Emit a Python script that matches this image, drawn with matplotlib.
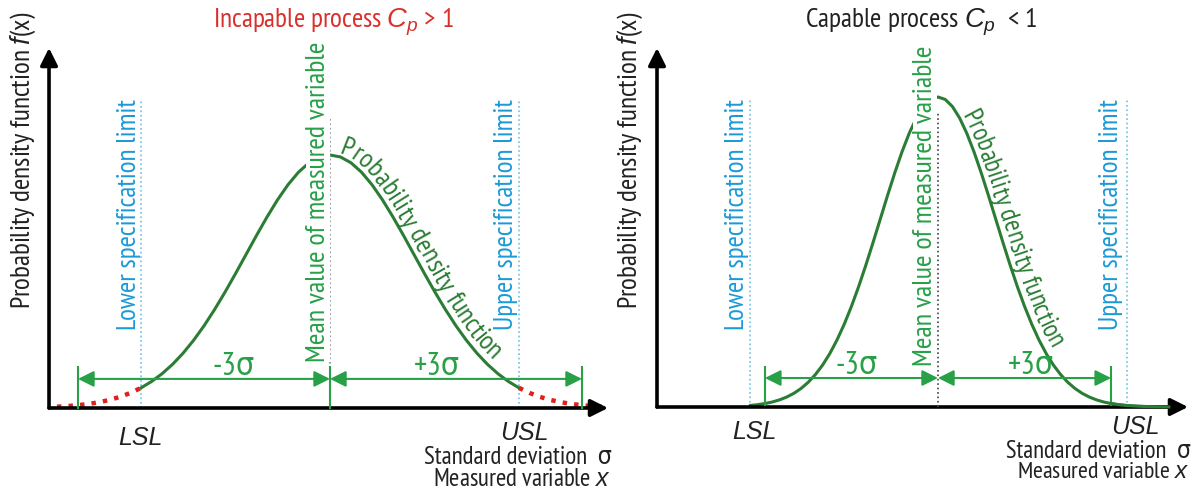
import numpy as np
import matplotlib
matplotlib.use("Agg")
import matplotlib.pyplot as plt
from matplotlib import font_manager
from matplotlib.font_manager import FontProperties
from matplotlib.textpath import TextToPath
from matplotlib.transforms import Affine2D, IdentityTransform

W, H, DPI = 1193, 492, 100

# the reference uses a narrow sans; take the narrowest one the machine has
FONT, STRETCH, rank = "Liberation Sans", "normal", 9
for f in font_manager.fontManager.ttflist:
    if f.style != "normal" or f.weight not in (400, "normal"):
        continue
    if "Narrow" in f.name:
        r = 0
    elif "Condensed" in f.name or f.stretch in ("condensed", "extra-condensed"):
        r = 1
    elif f.stretch == "semi-condensed":
        r = 2
    else:
        continue
    if r < rank and ("Sans" in f.name or "Roboto" in f.name):
        FONT, STRETCH, rank = f.name, f.stretch, r
ITALIC = "Liberation Sans"  # has a real italic, used for the italic letters
plt.rcParams["font.family"] = [FONT, "DejaVu Sans"]
plt.rcParams["font.stretch"] = STRETCH
plt.rcParams["mathtext.fontset"] = "custom"
plt.rcParams["mathtext.rm"] = FONT
plt.rcParams["mathtext.it"] = ITALIC + ":italic"

# density curve: x in sigmas from the mean, height relative to the peak
x_sig = [-4.0, -3.875, -3.75, -3.625, -3.5, -3.375, -3.25, -3.125, -3.0, -2.875,
         -2.75, -2.625, -2.5, -2.375, -2.25, -2.125, -2.0, -1.875, -1.75, -1.625,
         -1.5, -1.375, -1.25, -1.125, -1.0, -0.875, -0.75, -0.625, -0.5, -0.375,
         -0.25, -0.125, 0.0, 0.125, 0.25, 0.375, 0.5, 0.625, 0.75, 0.875, 1.0,
         1.125, 1.25, 1.375, 1.5, 1.625, 1.75, 1.875, 2.0, 2.125, 2.25, 2.375,
         2.5, 2.625, 2.75, 2.875, 3.0, 3.125, 3.25, 3.375, 3.5, 3.625, 3.75,
         3.875, 4.0]
pdf = [0.0003, 0.0005, 0.0009, 0.0014, 0.0022, 0.0034, 0.0051, 0.0076, 0.0111,
       0.0160, 0.0228, 0.0319, 0.0439, 0.0596, 0.0796, 0.1046, 0.1353, 0.1724,
       0.2163, 0.2671, 0.3247, 0.3886, 0.4578, 0.5311, 0.6065, 0.6820, 0.7548,
       0.8226, 0.8825, 0.9321, 0.9692, 0.9922, 1.0, 0.9922, 0.9692, 0.9321,
       0.8825, 0.8226, 0.7548, 0.6820, 0.6065, 0.5311, 0.4578, 0.3886, 0.3247,
       0.2671, 0.2163, 0.1724, 0.1353, 0.1046, 0.0796, 0.0596, 0.0439, 0.0319,
       0.0228, 0.0160, 0.0111, 0.0076, 0.0051, 0.0034, 0.0022, 0.0014, 0.0009,
       0.0005, 0.0003]

# specification limits in sigmas
lsl_incap, usl_incap = -2.25, 2.25
lsl_cap, usl_cap = -3.26, 3.28
span = 3  # the +-3 sigma brackets

titles = ["Incapable process $C_{p}$ > 1", "Capable process $C_{p}$  < 1"]
ylab = "Probability density function $f$(x)"

GREEN = "#2b7d35"
LGREEN = "#27a047"
BLUE = "#1c9ad6"
SPEC = "#6cc0e6"
RED = "#d8302b"
INK = "#222222"

fig = plt.figure(figsize=(W / DPI, H / DPI), dpi=DPI)
renderer = fig.canvas.get_renderer()
pix = Affine2D().scale(1 / W, -1 / H).translate(0, 1) + fig.transFigure


def make_axes(x0, x1, mean_px, sig_px, base_py, peak_h):
    ax = fig.add_axes([x0 / W, 0, (x1 - x0) / W, 1])
    ax.set_xlim((x0 - mean_px) / sig_px, (x1 - mean_px) / sig_px)
    ax.set_ylim((base_py - H) / peak_h, base_py / peak_h)
    ax.axis("off")
    return ax


def axis_arrow(ax, start, end):
    ax.annotate("", xy=end, xytext=start,
                arrowprops=dict(arrowstyle="-|>", color="black", lw=2.6,
                                mutation_scale=26, shrinkA=0, shrinkB=0))


def bracket(ax, x0, x1, y):
    ax.annotate("", xy=(x1, y), xytext=(x0, y),
                arrowprops=dict(arrowstyle="<|-|>", color=LGREEN, lw=1.5,
                                mutation_scale=24, shrinkA=0, shrinkB=0))


def text_on_curve(ax, xs, ys, text, start_px, length, offsets, color):
    pts = ax.transData.transform(np.column_stack([xs, ys]))
    pts = pts[pts[:, 0] >= start_px - 20]
    # shift the baseline off the curve, a little more towards the end
    d = np.gradient(pts, axis=0)
    d /= np.hypot(d[:, 0], d[:, 1])[:, None]
    off = np.interp(pts[:, 0], [start_px, start_px + 0.6 * length], offsets)
    pts = pts + np.column_stack([-d[:, 1], d[:, 0]]) * off[:, None]

    seg = np.diff(pts, axis=0)
    L = np.hypot(seg[:, 0], seg[:, 1])
    s = np.concatenate([[0], np.cumsum(L)])
    s0 = np.interp(start_px, pts[:, 0], s)
    ttp = TextToPath()

    def width(t, size):
        prop = FontProperties(family=FONT, size=size, stretch=STRETCH)
        return ttp.get_text_width_height_descent(t, prop, ismath=False)[0] * DPI / 72

    size = 20 * length / width(text, 20)

    def point(sv):
        i = int(np.clip(np.searchsorted(s, sv) - 1, 0, len(L) - 1))
        return pts[i] + (sv - s[i]) / L[i] * seg[i]

    for k, ch in enumerate(text):
        if ch == " ":
            continue
        sc = s0 + width(text[:k + 1], size) - width(ch, size) / 2
        p = point(sc)
        t = point(sc + 10) - point(sc - 10)
        ang = np.degrees(np.arctan2(t[1], t[0]))
        fig.text(p[0], p[1], ch, transform=IdentityTransform(), rotation=ang,
                 rotation_mode="anchor", ha="center", va="baseline",
                 fontsize=size, color=color)


def label(x, y, s, length, **kw):
    """Text at pixel (x, y) from the top-left, sized so it spans `length` px."""
    kw.setdefault("ha", "center")
    kw.setdefault("va", "center")
    t = fig.text(x, y, s, transform=pix, fontsize=20, **kw)
    bb = t.get_window_extent(renderer)
    actual = bb.height if kw.get("rotation") == 90 else bb.width
    t.set_fontsize(20 * length / actual)
    return t


xs = np.array(x_sig)
ys = np.array(pdf)

# ---------------- left: incapable process ----------------
axL = make_axes(0, 615, 330, 84, 408, 253)
inner = (xs >= lsl_incap) & (xs <= usl_incap)
axL.plot(xs[inner], ys[inner], color=GREEN, lw=2.2, zorder=2)
for m in [(xs <= lsl_incap) & (xs >= -3.3), (xs >= usl_incap) & (xs <= 3.3)]:
    axL.plot(xs[m], ys[m], color="#e0201c", lw=3.2, ls=(0, (1, 1.6)), zorder=2)
for x in [lsl_incap, usl_incap]:
    axL.plot([x, x], [0, 1.22], color=SPEC, lw=1.2, ls=":", zorder=1)
axL.plot([0, 0], [0.16, 1.146], color="#888888", lw=1.2, ls=":", zorder=4)
for x in [-span, 0, span]:
    axL.plot([x, x], [0, 0.162], color=LGREEN, lw=1.5, zorder=4)
bracket(axL, -span, 0, 0.115)
bracket(axL, 0, span, 0.115)
axis_arrow(axL, (-3.345, 0), (-3.345, 1.423))
axis_arrow(axL, (-3.345, 0), (3.31, 0))
text_on_curve(axL, xs, ys, "Probability density function", 338, 262, (3, 6), GREEN)

# ---------------- right: capable process ----------------
axR = make_axes(615, W, 938, 57.7, 407, 310)
m = xs >= -3.25
axR.plot(xs[m], ys[m], color=GREEN, lw=2.2, zorder=2)
for x in [lsl_cap, usl_cap]:
    axR.plot([x, x], [0, 0.99], color=SPEC, lw=1.2, ls=":", zorder=1)
axR.plot([0, 0], [0, 0.95], color="#444444", lw=1.2, ls=":", zorder=4)
for x in [-span, span]:
    axR.plot([x, x], [0.006, 0.129], color=LGREEN, lw=1.5, zorder=4)
bracket(axR, -span, 0, 0.0935)
bracket(axR, 0, span, 0.0935)
axis_arrow(axR, (-4.87, 0), (-4.87, 1.158))
axis_arrow(axR, (-4.87, 0), (4.333, 0))
axR.plot(xs[xs >= 3.0], ys[xs >= 3.0], color=GREEN, lw=2.2, zorder=5)
text_on_curve(axR, xs, ys, "Probability density function", 961, 252, (3, 9), GREEN)

# ---------------- labels (pixel positions, y measured from top) ----------------
label(333, 22, titles[0], 240, color=RED)
label(921, 22, titles[1], 232, color=INK)
for x in [23, 630]:
    label(x, 160, ylab, 298, rotation=90, color=INK)

bg = dict(facecolor="white", edgecolor="none", pad=0)
for x in [129, 737]:
    label(x, 215, "Lower specification limit", 230, rotation=90, color=BLUE)
for x in [506, 1111]:
    label(x, 215, "Upper specification limit", 230, rotation=90, color=BLUE)
label(318, 202, "Mean value of measured variable", 320, rotation=90,
      color=LGREEN, bbox=bg, zorder=3)
label(925, 206, "Mean value of measured variable", 320, rotation=90,
      color=LGREEN, bbox=bg, zorder=3)

# the four sigma labels share one size, taken from the widest of them
sig_size = label(437, 375, "+3σ", 46, va="baseline", color=LGREEN).get_fontsize()
label(1031, 374, "+3σ", 46, va="baseline", color=LGREEN)
for x, y in [(234, 375), (857, 374)]:
    fig.text(x, y, "-3σ", transform=pix, fontsize=sig_size, ha="center",
             va="baseline", color=LGREEN)

for x, y, s in [(140, 438, "LSL"), (524, 433, "USL"), (754, 432, "LSL"), (1135, 427, "USL")]:
    fig.text(x, y, s, transform=pix, fontsize=18, family=ITALIC, style="italic",
             ha="center", va="center", color=INK)

label(612, 458, "Standard deviation  σ", 187, ha="right", color=INK)
label(610, 480, "Measured variable $x$", 177, ha="right", color=INK)
label(1191, 451, "Standard deviation  σ", 185, ha="right", color=INK)
label(1189, 472, "Measured variable $x$", 172, ha="right", color=INK)

fig.savefig("out.png", dpi=DPI, facecolor="white")
